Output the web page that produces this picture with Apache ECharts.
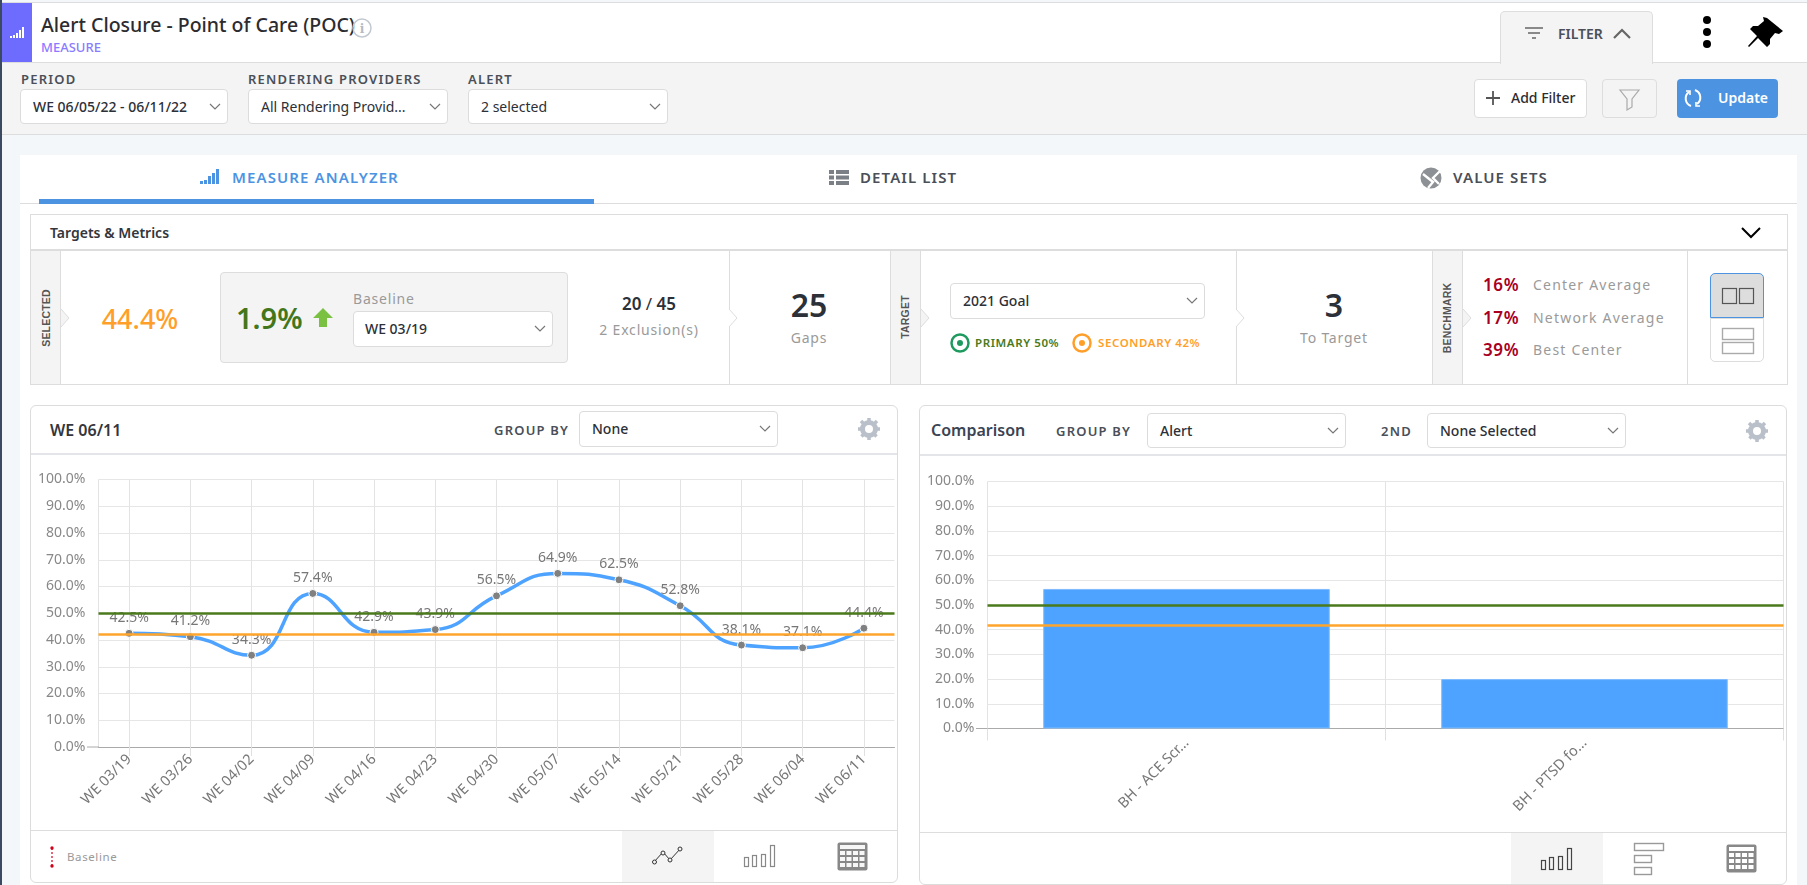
<!DOCTYPE html>
<html><head><meta charset="utf-8">
<script src="https://cdn.jsdelivr.net/npm/echarts@6/dist/echarts.min.js"></script>
<style>
html,body{margin:0;padding:0;width:1807px;height:885px;overflow:hidden;background:#f3f7fa;font-family:"Noto Sans",sans-serif;color:#2c3038}
.b{position:absolute;box-sizing:border-box}
.t{position:absolute;white-space:nowrap;line-height:0}
.c{transform:translateX(-50%)}
.lab{font-size:13px;font-weight:600;letter-spacing:1.2px;color:#4a4f58}
.sel{position:absolute;box-sizing:border-box;background:#fff;border:1px solid #dcdcdc;border-radius:4px;font-size:14px}
.sel span{position:absolute;left:12px;top:50%;line-height:0;white-space:nowrap}
.sel svg{position:absolute;right:6px;top:50%;margin-top:-4px}
.gray{color:#9a9a9a;letter-spacing:.8px}
.rot{position:absolute;transform:translate(-50%,-50%) rotate(-90deg);font:bold 10.5px "Liberation Sans",sans-serif;color:#555;letter-spacing:.2px;white-space:nowrap}
.tab{font-size:15px;font-weight:600;letter-spacing:1.1px;color:#4a4f58}
.red{font-size:17px;font-weight:600;color:#a8001e;letter-spacing:.6px}
.pan{position:absolute;box-sizing:border-box;background:#fff;border:1px solid #dcdcdc;border-radius:6px}
.chart{position:absolute}
</style></head><body>
<div class="b" style="left:0;top:0;width:2px;height:885px;background:#3b4a60;z-index:9"></div>
<div class="b" style="left:0;top:2px;width:1807px;height:60px;background:#fff;border-top:1px solid #ddd"></div>
<div class="b" style="left:2px;top:3px;width:30px;height:59px;background:#6e6cff"></div>
<div class="t" style="left:41px;top:25px;font-size:19.5px;font-weight:500;color:#2c2c30">Alert Closure - Point of Care (POC)</div>
<div class="t" style="left:41px;top:47px;font-size:13px;font-weight:500;color:#8a7bff">MEASURE</div>
<div class="b" style="left:0;top:62px;width:1807px;height:73px;background:#f4f4f4;border-top:1px solid #ddd;border-bottom:1px solid #ddd"></div>
<div class="b" style="left:1500px;top:11px;width:153px;height:53px;background:#f4f4f4;border:1px solid #ddd;border-bottom:0;border-radius:5px 5px 0 0"></div>
<div class="t" style="left:1558px;top:34px;font-size:14px;font-weight:600;color:#4a4f58">FILTER</div>

<div class="t lab" style="left:21px;top:79px">PERIOD</div>
<div class="t lab" style="left:248px;top:79px">RENDERING PROVIDERS</div>
<div class="t lab" style="left:468px;top:79px">ALERT</div>
<div class="sel" style="left:20px;top:89px;width:208px;height:35px"><span style="font-weight:500">WE 06/05/22 - 06/11/22</span><svg width="12" height="8"><path d="M1 1l5 5 5-5" fill="none" stroke="#777" stroke-width="1.2"/></svg></div>
<div class="sel" style="left:248px;top:89px;width:200px;height:35px"><span>All Rendering Provid...</span><svg width="12" height="8"><path d="M1 1l5 5 5-5" fill="none" stroke="#777" stroke-width="1.2"/></svg></div>
<div class="sel" style="left:468px;top:89px;width:200px;height:35px"><span>2 selected</span><svg width="12" height="8"><path d="M1 1l5 5 5-5" fill="none" stroke="#777" stroke-width="1.2"/></svg></div>

<div class="b" style="left:1474px;top:79px;width:113px;height:39px;background:#fff;border:1px solid #ddd;border-radius:4px"></div>
<div class="t" style="left:1511px;top:98px;font-size:14px;font-weight:500;color:#2c2c30">Add Filter</div>
<div class="b" style="left:1602px;top:79px;width:55px;height:39px;background:#f4f4f4;border:1px solid #ddd;border-radius:4px"></div>
<div class="b" style="left:1677px;top:79px;width:101px;height:39px;background:#4c94e2;border-radius:4px"></div>
<div class="t" style="left:1718px;top:98px;font-size:14px;font-weight:600;color:#fff">Update</div>

<div class="b" style="left:20px;top:155px;width:1777px;height:730px;background:#fff"></div>
<div class="b" style="left:20px;top:203px;width:1777px;height:1px;background:#ddd"></div>
<div class="b" style="left:39px;top:199px;width:555px;height:5px;background:#4c94e2"></div>
<div class="t tab" style="left:232px;top:177px;color:#4c94e2">MEASURE ANALYZER</div>
<div class="t tab" style="left:860px;top:177px">DETAIL LIST</div>
<div class="t tab" style="left:1453px;top:177px">VALUE SETS</div>

<div class="b" style="left:30px;top:214px;width:1758px;height:171px;border:1px solid #ddd"></div>
<div class="b" style="left:31px;top:249px;width:1756px;height:2px;background:#ddd"></div>
<div class="t" style="left:50px;top:233px;font-size:14px;font-weight:600;color:#33363c">Targets &amp; Metrics</div>
<div class="b" style="left:31px;top:251px;width:30px;height:133px;background:#f4f4f4;border-right:1px solid #ddd"></div>
<div class="rot" style="left:46px;top:318px">SELECTED</div>
<div class="t c" style="left:140px;top:319px;font-size:27px;font-weight:500;color:#ff9f2a">44.4%</div>
<div class="b" style="left:220px;top:272px;width:348px;height:91px;background:#f4f4f4;border:1px solid #ddd;border-radius:4px"></div>
<div class="t" style="left:236px;top:318px;font-size:29px;font-weight:600;color:#43761a">1.9%</div>
<div class="t gray" style="left:353px;top:299px;font-size:14px">Baseline</div>
<div class="sel" style="left:353px;top:311px;width:200px;height:36px"><span style="left:11px;font-weight:500">WE 03/19</span><svg width="12" height="8"><path d="M1 1l5 5 5-5" fill="none" stroke="#777" stroke-width="1.2"/></svg></div>
<div class="t c" style="left:649px;top:304px;font-size:17px;font-weight:600"><span>20</span><span style="font-weight:400"> / </span><span>45</span></div>
<div class="t c gray" style="left:649px;top:330px;font-size:14px">2 Exclusion(s)</div>
<div class="b" style="left:729px;top:251px;width:1px;height:133px;background:#ddd"></div>
<div class="t c" style="left:809px;top:305px;font-size:32px;font-weight:600">25</div>
<div class="t c gray" style="left:809px;top:338px;font-size:14px">Gaps</div>
<div class="b" style="left:890px;top:251px;width:31px;height:133px;background:#f4f4f4;border:solid #ddd;border-width:0 1px"></div>
<div class="rot" style="left:905px;top:317px">TARGET</div>
<div class="sel" style="left:950px;top:283px;width:255px;height:36px"><span style="font-weight:500">2021 Goal</span><svg width="12" height="8"><path d="M1 1l5 5 5-5" fill="none" stroke="#777" stroke-width="1.2"/></svg></div>
<div class="t" style="left:975px;top:343px;font-size:11.5px;font-weight:600;letter-spacing:.6px;color:#4a7a1c">PRIMARY 50%</div>
<div class="t" style="left:1098px;top:343px;font-size:11.5px;font-weight:600;letter-spacing:.6px;color:#ff9f2a">SECONDARY 42%</div>
<div class="b" style="left:1236px;top:251px;width:1px;height:133px;background:#ddd"></div>
<div class="t c" style="left:1334px;top:305px;font-size:32px;font-weight:600">3</div>
<div class="t c gray" style="left:1334px;top:338px;font-size:14px">To Target</div>
<div class="b" style="left:1432px;top:251px;width:31px;height:133px;background:#f4f4f4;border:solid #ddd;border-width:0 1px"></div>
<div class="rot" style="left:1447px;top:318px">BENCHMARK</div>
<div class="t red" style="left:1483px;top:285px">16%</div>
<div class="t red" style="left:1483px;top:318px">17%</div>
<div class="t red" style="left:1483px;top:350px">39%</div>
<div class="t gray" style="left:1533px;top:285px;font-size:14px;letter-spacing:1.2px">Center Average</div>
<div class="t gray" style="left:1533px;top:318px;font-size:14px;letter-spacing:1.2px">Network Average</div>
<div class="t gray" style="left:1533px;top:350px;font-size:14px;letter-spacing:1.2px">Best Center</div>
<div class="b" style="left:1687px;top:251px;width:1px;height:133px;background:#ddd"></div>
<div class="b" style="left:1710px;top:318px;width:54px;height:44px;border:1px solid #ddd;border-radius:0 0 5px 5px"></div>
<div class="b" style="left:1710px;top:273px;width:54px;height:45px;background:#ddd;border:1px solid #4c94e2;border-radius:5px 5px 0 0"></div>

<div class="pan" style="left:30px;top:405px;width:868px;height:478px"></div>
<div class="b" style="left:31px;top:453px;width:866px;height:2px;background:#e3e5e8"></div>
<div class="b" style="left:31px;top:830px;width:866px;height:1px;background:#ddd"></div>
<div class="b" style="left:622px;top:831px;width:92px;height:51px;background:#f4f4f4"></div>
<div class="t" style="left:50px;top:430px;font-size:16px;font-weight:600;color:#33363c">WE 06/11</div>
<div class="t lab" style="left:494px;top:430px">GROUP BY</div>
<div class="sel" style="left:579px;top:411px;width:199px;height:36px"><span style="font-weight:500">None</span><svg width="12" height="8"><path d="M1 1l5 5 5-5" fill="none" stroke="#777" stroke-width="1.2"/></svg></div>
<div class="t" style="left:67px;top:857px;font-size:11.5px;color:#999;letter-spacing:.6px">Baseline</div>

<div class="pan" style="left:919px;top:405px;width:868px;height:480px"></div>
<div class="b" style="left:920px;top:454px;width:866px;height:2px;background:#e3e5e8"></div>
<div class="b" style="left:920px;top:832px;width:866px;height:1px;background:#ddd"></div>
<div class="b" style="left:1511px;top:833px;width:92px;height:51px;background:#f4f4f4"></div>
<div class="t" style="left:931px;top:430px;font-size:16px;font-weight:600;color:#3a4454">Comparison</div>
<div class="t lab" style="left:1056px;top:431px">GROUP BY</div>
<div class="sel" style="left:1147px;top:413px;width:199px;height:35px"><span style="font-weight:500">Alert</span><svg width="12" height="8"><path d="M1 1l5 5 5-5" fill="none" stroke="#777" stroke-width="1.2"/></svg></div>
<div class="t lab" style="left:1381px;top:431px">2ND</div>
<div class="sel" style="left:1427px;top:413px;width:199px;height:35px"><span style="font-weight:500">None Selected</span><svg width="12" height="8"><path d="M1 1l5 5 5-5" fill="none" stroke="#777" stroke-width="1.2"/></svg></div>

<svg style="position:absolute;left:0;top:0;z-index:3" width="1807" height="885" fill="none">
<!-- header bars icon -->
<g fill="#fff"><rect x="10" y="36" width="2" height="2"/><rect x="13" y="35" width="2" height="3"/><rect x="16" y="33" width="2" height="5"/><rect x="19" y="30" width="2" height="8"/><rect x="22" y="27" width="2" height="11"/></g>
<circle cx="362" cy="28" r="9" stroke="#c3c8d0" stroke-width="1.5"/><text x="362" y="33" font-family="DejaVu Serif" font-size="12" font-weight="bold" fill="#b5bac2" text-anchor="middle">i</text>
<g stroke="#666" stroke-width="1.6"><path d="M1525 28h18M1528 33h12M1532 38h4"/></g>
<path d="M1614 38l8-8 8 8" stroke="#666" stroke-width="2.2"/>
<g fill="#000"><circle cx="1707" cy="20" r="4"/><circle cx="1707" cy="32" r="4"/><circle cx="1707" cy="44" r="4"/></g>
<path d="M1768 19l16 13-4 3-4-1-5 6 0 5-3 3-9-9-9 9 -1-1 9-10-7-7 3-3 5 0 6-5-1-4z" fill="#000" transform="translate(-1 -1)"/>
<path d="M1486 98h14M1493 91v14" stroke="#555" stroke-width="1.8"/>
<path d="M1620 90h19l-7 9v8l-5 3v-11z" stroke="#aaa" stroke-width="1.2"/>
<g stroke="#fff" stroke-width="2"><path d="M1691 106a8 8 0 0 1 -2-14"/><path d="M1695 90a8 8 0 0 1 2 14"/><path d="M1686 91l4 0 0 4M1700 106l-4 0 0-4" stroke-width="1.6"/></g>
<!-- tab icons -->
<g fill="#4c94e2"><rect x="200" y="181" width="3" height="3"/><rect x="204" y="180" width="3" height="4"/><rect x="208" y="176" width="3" height="8"/><rect x="212" y="173" width="3" height="11"/><rect x="216" y="169" width="3" height="15"/></g>
<g fill="#7b7f86"><path d="M829 170h5v4h-5zM836 170h13v4h-13zM829 175.500h5v4h-5zM836 175.500h13v4h-13zM829 181h5v4h-5zM836 181h13v4h-13z"/></g>
<circle cx="1431" cy="178" r="10.500" fill="#8d9094"/><path d="M1423 174l10 8-5 6M1440 171l-7 7 6 6" stroke="#fff" stroke-width="2.400"/>
<path d="M1742 228l9 9 9-9" stroke="#000" stroke-width="2"/>
<!-- col notches -->
<path d="M61 309l8 9-8 9" fill="#f4f4f4" stroke="#ddd"/><path d="M729 309l8 9-8 9" fill="#fff" stroke="#ddd"/>
<path d="M921 309l8 9-8 9" fill="#f4f4f4" stroke="#ddd"/><path d="M1236 309l8 9-8 9" fill="#fff" stroke="#ddd"/><path d="M1463 309l8 9-8 9" fill="#f4f4f4" stroke="#ddd"/>
<path d="M323 308l10 10h-6v9h-8v-9h-6z" fill="#7ac142"/>
<circle cx="960" cy="343" r="8.500" stroke="#1f9a5f" stroke-width="2.500"/><circle cx="960" cy="343" r="3" fill="#1f9a5f"/>
<circle cx="1082" cy="343" r="8.500" stroke="#ff9f2a" stroke-width="2.500"/><circle cx="1082" cy="343" r="3" fill="#ff9f2a"/>
<g stroke="#555" stroke-width="1.200"><rect x="1722.500" y="288.500" width="14" height="15"/><rect x="1739.500" y="288.500" width="14" height="15"/></g>
<g stroke="#aaa" stroke-width="1.400"><rect x="1722.500" y="328.500" width="31" height="11"/><rect x="1722.500" y="342.500" width="31" height="11"/></g>
<!-- gear -->
<g id="g1"><circle cx="869" cy="429" r="6.500" stroke="#b9c0ca" stroke-width="5"/><path d="M869 418v22M858 429h22M861 421l16 16M877 421l-16 16" stroke="#b9c0ca" stroke-width="3.500" stroke-dasharray="3.500 15 3.500"/></g>
<g><circle cx="1757" cy="431" r="6.500" stroke="#b9c0ca" stroke-width="5"/><path d="M1757 420v22M1746 431h22M1749 423l16 16M1765 423l-16 16" stroke="#b9c0ca" stroke-width="3.500" stroke-dasharray="3.500 15 3.500"/></g>
<path d="M52 848v18" stroke="#d0021b" stroke-width="1.200" stroke-dasharray="2 2"/><circle cx="52" cy="848" r="1.700" fill="#d0021b"/><circle cx="52" cy="866" r="1.700" fill="#d0021b"/>
<!-- footers left -->
<g stroke="#333" stroke-width="1"><path d="M654 862l9-10 7 8 11-12"/></g>
<g fill="#f4f4f4" stroke="#333"><circle cx="654.500" cy="862" r="2"/><circle cx="663" cy="853" r="2"/><circle cx="670" cy="860" r="2"/><circle cx="680" cy="849" r="2"/></g>
<g stroke="#888" stroke-width="1.200"><rect x="744.500" y="857.500" width="4" height="9"/><rect x="752.500" y="855.500" width="4" height="11"/><rect x="761.500" y="854.500" width="4" height="12"/><rect x="770.500" y="845.500" width="4" height="21"/></g>
<g><rect x="837.500" y="842.500" width="30" height="28" rx="2" fill="#888"/><g fill="#f7f7f7"><rect x="840" y="845" width="25" height="4"/><rect x="840" y="851" width="5" height="4"/><rect x="846.500" y="851" width="5" height="4"/><rect x="853" y="851" width="5" height="4"/><rect x="859.500" y="851" width="5" height="4"/><rect x="840" y="857" width="5" height="4"/><rect x="846.500" y="857" width="5" height="4"/><rect x="853" y="857" width="5" height="4"/><rect x="859.500" y="857" width="5" height="4"/><rect x="840" y="863" width="5" height="4"/><rect x="846.500" y="863" width="5" height="4"/><rect x="853" y="863" width="5" height="4"/><rect x="859.500" y="863" width="5" height="4"/></g></g>
<!-- footers right -->
<g stroke="#444" stroke-width="1.200"><rect x="1541.500" y="860.500" width="4" height="9"/><rect x="1549.500" y="857.500" width="4" height="12"/><rect x="1558.500" y="856.500" width="4" height="13"/><rect x="1567.500" y="848.500" width="4" height="21"/></g>
<g stroke="#999" stroke-width="1.400"><rect x="1634.500" y="843.500" width="29" height="7"/><rect x="1634.500" y="855.500" width="17" height="7"/><rect x="1634.500" y="867.500" width="17" height="7"/></g>
<g><rect x="1726.500" y="844.500" width="30" height="28" rx="2" fill="#888"/><g fill="#fff"><rect x="1729" y="847" width="25" height="4"/><rect x="1729" y="853" width="5" height="4"/><rect x="1735.500" y="853" width="5" height="4"/><rect x="1742" y="853" width="5" height="4"/><rect x="1748.500" y="853" width="5" height="4"/><rect x="1729" y="859" width="5" height="4"/><rect x="1735.500" y="859" width="5" height="4"/><rect x="1742" y="859" width="5" height="4"/><rect x="1748.500" y="859" width="5" height="4"/><rect x="1729" y="865" width="5" height="4"/><rect x="1735.500" y="865" width="5" height="4"/><rect x="1742" y="865" width="5" height="4"/><rect x="1748.500" y="865" width="5" height="4"/></g></g>
</svg>

<div id="lineChart" class="chart" style="left:31px;top:456px;width:866px;height:374px;z-index:4"></div>
<div id="barChart" class="chart" style="left:920px;top:456px;width:866px;height:376px;z-index:4"></div>

<script>
const weekLabels = ["WE 03/19","WE 03/26","WE 04/02","WE 04/09","WE 04/16","WE 04/23","WE 04/30","WE 05/07","WE 05/14","WE 05/21","WE 05/28","WE 06/04","WE 06/11"];
const weekValues = [42.5,41.2,34.3,57.4,42.9,43.9,56.5,64.9,62.5,52.8,38.1,37.1,44.4];
const alertLabels = ["BH - ACE Scr...","BH - PTSD fo..."];
const alertValues = [56.5,20.0];
const primaryTarget = 50;
const secondaryTarget = 42;

const FONT = '"Noto Sans", sans-serif';
const targetLines = (w) => ({
  silent:true, symbol:'none', label:{show:false}, z:5, animation:false,
  data:[
    {yAxis:primaryTarget, lineStyle:{color:'#4a7a1c',width:w,type:'solid'}},
    {yAxis:secondaryTarget, lineStyle:{color:'#ffa52c',width:w,type:'solid'}}
  ]
});
const yAxis = {
  type:'value', min:0, max:100, interval:10,
  axisLabel:{formatter:v=>v.toFixed(1)+'%', color:'#888', fontSize:14, fontFamily:FONT, margin:13},
  axisLine:{show:false}, axisTick:{show:false},
  splitLine:{show:true, lineStyle:{color:'#e6e6e6',width:1}}
};

const lineChart = echarts.init(document.getElementById('lineChart'));
lineChart.setOption({
  animation:false,
  grid:{left:67.5, top:23.5, width:796, height:267.5, containLabel:false},
  xAxis:{
    type:'category', data:weekLabels, boundaryGap:true,
    axisLine:{show:true,lineStyle:{color:'#aaa',width:1}},
    axisTick:{show:true,alignWithLabel:true,length:9,lineStyle:{color:'#e0e0e0'}},
    splitLine:{show:true,alignWithLabel:true,lineStyle:{color:'#e3e3e3',width:1}},
    axisLabel:{rotate:45,interval:0,color:'#777',fontSize:14.5,fontFamily:FONT,margin:10}
  },
  yAxis,
  graphic:[
    {type:'line',shape:{x1:67.5,y1:23.5,x2:67.5,y2:291},style:{stroke:'#e3e3e3',lineWidth:1},silent:true},
    {type:'line',shape:{x1:56,y1:291,x2:68,y2:291},style:{stroke:'#aaa',lineWidth:1},silent:true}
  ],
  series:[{
    type:'line', data:weekValues, smooth:0.5, z:3,
    lineStyle:{color:'#4da3ff',width:3.5},
    symbol:'circle', symbolSize:8,
    itemStyle:{color:'#808080',borderColor:'#fff',borderWidth:1},
    label:{show:true,position:'top',distance:4,formatter:p=>p.value.toFixed(1)+'%',color:'#777',fontSize:14,fontFamily:FONT},
    markLine:targetLines(2.5)
  }]
});

const barChart = echarts.init(document.getElementById('barChart'));
barChart.setOption({
  animation:false,
  grid:{left:67.5, top:25.5, width:796, height:247, containLabel:false},
  xAxis:{
    type:'category', data:alertLabels, boundaryGap:true,
    axisLine:{show:true,lineStyle:{color:'#aaa',width:1}},
    axisTick:{show:true,length:12,lineStyle:{color:'#e0e0e0'}},
    splitLine:{show:true,lineStyle:{color:'#e3e3e3',width:1}},
    axisLabel:{rotate:45,interval:0,color:'#777',fontSize:14.5,fontFamily:FONT,margin:12}
  },
  yAxis,
  graphic:[
    {type:'line',shape:{x1:56,y1:272.5,x2:68,y2:272.5},style:{stroke:'#aaa',lineWidth:1},silent:true}
  ],
  series:[{
    type:'bar', data:alertValues, barWidth:'72%', z:2,
    itemStyle:{color:'#4da3ff',borderColor:'#7fbcff',borderWidth:1},
    markLine:targetLines(2.5)
  }]
});
</script>
</body></html>
